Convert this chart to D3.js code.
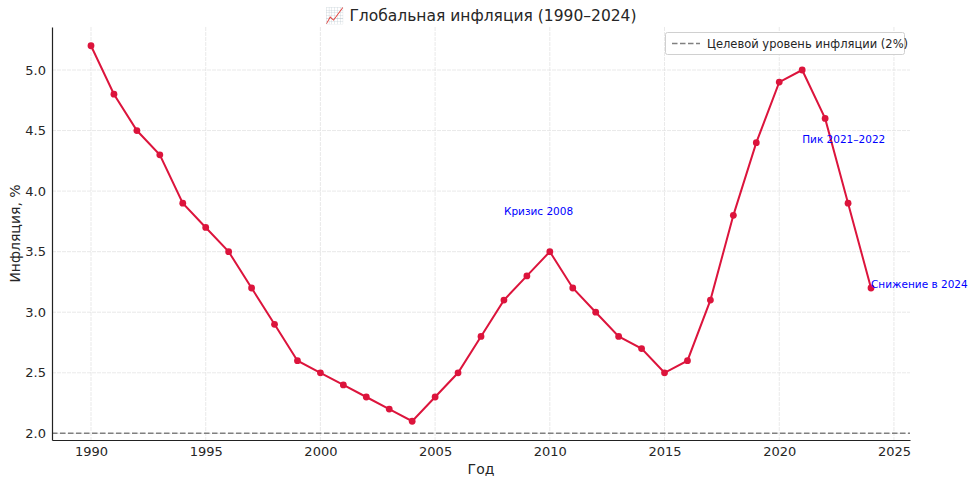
<!DOCTYPE html>
<html><head><meta charset="utf-8">
<script src="https://cdn.jsdelivr.net/npm/d3@7"></script>
<style>body{margin:0;background:#fff;} text{font-family:"DejaVu Sans",sans-serif;}</style>
</head><body><svg id="c" width="974" height="485"></svg>
<script>
const years = [1990,1991,1992,1993,1994,1995,1996,1997,1998,1999,2000,2001,2002,2003,2004,2005,2006,2007,2008,2009,2010,2011,2012,2013,2014,2015,2016,2017,2018,2019,2020,2021,2022,2023,2024];
const inflation = [5.2,4.8,4.5,4.3,3.9,3.7,3.5,3.2,2.9,2.6,2.5,2.4,2.3,2.2,2.1,2.3,2.5,2.8,3.1,3.3,3.5,3.2,3.0,2.8,2.7,2.5,2.6,3.1,3.8,4.4,4.9,5.0,4.6,3.9,3.2];
const xTicks = [1990,1995,2000,2005,2010,2015,2020,2025];
const yTicks = [2.0,2.5,3.0,3.5,4.0,4.5,5.0];
const target = 2.0;
const annotations = [
  {year:2008, value:3.8, text:"Кризис 2008"},
  {year:2021, value:4.4, text:"Пик 2021–2022"},
  {year:2024, value:3.2, text:"Снижение в 2024"}
];
const titleText = "📈 Глобальная инфляция (1990–2024)";
const legendText = "Целевой уровень инфляции (2%)";

const L=52,R=910,T=27,B=440;
const svg=d3.select("#c");
const x=d3.scaleLinear().domain([1988.3,2025.7]).range([L,R]);
const y=d3.scaleLinear().domain([1.945,5.355]).range([B,T]);

// grid
svg.append("g").selectAll("line").data(xTicks).join("line")
 .attr("x1",d=>x(d)).attr("x2",d=>x(d)).attr("y1",T).attr("y2",B)
 .attr("stroke","#e3e3e3").attr("stroke-width",0.8).attr("stroke-dasharray","4,1");
svg.append("g").selectAll("line").data(yTicks).join("line")
 .attr("x1",L).attr("x2",R).attr("y1",d=>y(d)).attr("y2",d=>y(d))
 .attr("stroke","#e3e3e3").attr("stroke-width",0.8).attr("stroke-dasharray","4,1");

// target line
svg.append("line").attr("x1",L).attr("x2",R).attr("y1",y(target)).attr("y2",y(target))
 .attr("stroke","#808080").attr("stroke-width",1.5).attr("stroke-dasharray","5.5,2.5");

// axes
const xa=svg.append("g").attr("transform",`translate(0,${B})`)
 .call(d3.axisBottom(x).tickValues(xTicks).tickFormat(d3.format("d")).tickSize(0).tickPadding(7));
const ya=svg.append("g").attr("transform",`translate(${L},0)`)
 .call(d3.axisLeft(y).tickValues(yTicks).tickFormat(d3.format(".1f")).tickSize(0).tickPadding(6));
[xa,ya].forEach(a=>{a.select(".domain").attr("stroke","#222").attr("stroke-width",1.2);
 a.selectAll(".tick text").attr("fill","#262626").attr("font-size",13).attr("font-family","DejaVu Sans");});

// line
const line=d3.line().x((d,i)=>x(years[i])).y(d=>y(d));
svg.append("path").datum(inflation).attr("d",line).attr("fill","none")
 .attr("stroke","#dc143c").attr("stroke-width",2);
svg.append("g").selectAll("circle").data(inflation).join("circle")
 .attr("cx",(d,i)=>x(years[i])).attr("cy",d=>y(d)).attr("r",3.4).attr("fill","#dc143c");

// annotations
svg.append("g").selectAll("text").data(annotations).join("text")
 .attr("x",d=>x(d.year)).attr("y",d=>y(d.value)).attr("fill","#0000ff")
 .attr("font-size",10.5).text(d=>d.text);

// title & labels
svg.append("text").attr("x",(L+R)/2).attr("y",21).attr("text-anchor","middle")
 .attr("font-size",15.5).attr("fill","#262626").text(titleText);
svg.append("text").attr("x",(L+R)/2).attr("y",474).attr("text-anchor","middle")
 .attr("font-size",14).attr("fill","#262626").text("Год");
svg.append("text").attr("transform",`translate(20,${(T+B)/2}) rotate(-90)`).attr("text-anchor","middle")
 .attr("font-size",14).attr("fill","#262626").text("Инфляция, %");

// legend
const lg=svg.append("g");
lg.append("rect").attr("x",665.5).attr("y",32.5).attr("width",239).attr("height",22).attr("rx",2)
 .attr("fill","#fff").attr("stroke","#d0d0d0");
lg.append("line").attr("x1",672).attr("x2",700).attr("y1",43.5).attr("y2",43.5)
 .attr("stroke","#808080").attr("stroke-width",1.5).attr("stroke-dasharray","5.5,2.5");
lg.append("text").attr("x",707).attr("y",47.5).attr("font-size",11.5).attr("fill","#262626").text(legendText);
</script></body></html>
